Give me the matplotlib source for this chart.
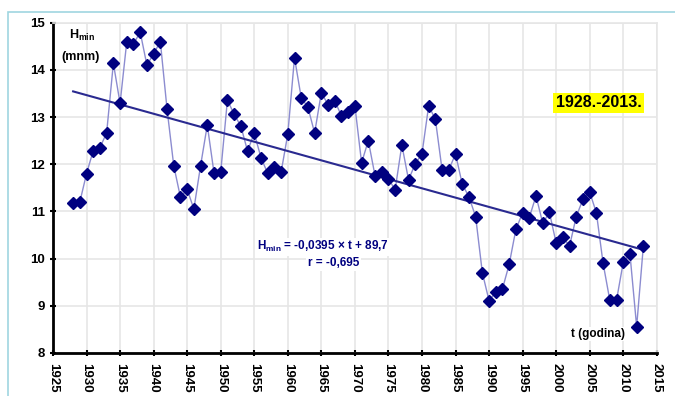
import matplotlib
matplotlib.use("Agg")
import matplotlib.pyplot as plt
import numpy as np
from matplotlib.patches import Rectangle

plt.rcParams["font.family"] = ["Liberation Sans", "DejaVu Sans"]
plt.rcParams["mathtext.fontset"] = "custom"
plt.rcParams["mathtext.rm"] = "Liberation Sans:bold"

# annual minimum levels, 1928-2013
years = list(range(1928, 2014))
h_min = [11.18, 11.20, 11.80, 12.29, 12.35, 12.67, 14.14, 13.29, 14.60, 14.55,
         14.80, 14.10, 14.34, 14.60, 13.17, 11.97, 11.30, 11.47, 11.05, 11.97,
         12.83, 11.82, 11.83, 13.36, 13.06, 12.81, 12.28, 12.66, 12.14, 11.81,
         11.95, 11.83, 12.64, 14.26, 13.41, 13.21, 12.66, 13.52, 13.26, 13.35,
         13.02, 13.11, 13.24, 12.03, 12.50, 11.76, 11.84, 11.69, 11.46, 12.41,
         11.67, 12.01, 12.22, 13.24, 12.95, 11.88, 11.88, 12.22, 11.58, 11.31,
         10.89, 9.70, 9.11, 9.29, 9.36, 9.88, 10.62, 10.97, 10.87, 11.33,
         10.75, 10.98, 10.33, 10.45, 10.27, 10.89, 11.26, 11.41, 10.97, 9.90,
         9.12, 9.12, 9.92, 10.10, 8.56, 10.27]
slope, intercept = -0.0395, 89.7

navy = "#000080"
fig = plt.figure(figsize=(6.75, 3.96), dpi=100)
ax = fig.add_axes([0.0785, 0.1086, 0.8945, 0.8341])

yrs = np.array(years)
ax.plot(yrs, h_min, color="#8c8cd0", lw=1.0, zorder=3)
ax.plot(yrs, h_min, ls="none", marker="D", ms=5.8, color=navy, zorder=4)
ax.plot([yrs[0], yrs[-1]], slope * np.array([yrs[0], yrs[-1]]) + intercept,
        color="#2a2a90", lw=1.5, zorder=3)

ax.set_xlim(1925, 2015)
ax.set_ylim(8, 15)
ax.set_xticks(range(1925, 2016, 5))
ax.set_yticks(range(8, 16))
ax.grid(True, color="#e6e6e6", lw=1.2, zorder=0)
ax.set_axisbelow(True)
for s in ("left", "bottom"):
    ax.spines[s].set_linewidth(2)
    ax.spines[s].set_color("black")
for s in ("top", "right"):
    ax.spines[s].set_color("#e6e6e6")
    ax.spines[s].set_linewidth(1.2)
ax.tick_params(direction="inout", length=5, width=1.5)
ax.tick_params(axis="x", pad=5)
for lab in ax.get_xticklabels():
    lab.set_rotation(-90)
    lab.set_fontsize(9.5)
    lab.set_fontweight("bold")
for lab in ax.get_yticklabels():
    lab.set_fontsize(9.5)
    lab.set_fontweight("bold")

ax.text(1927.4, 14.72, r"H$_{\mathrm{min}}$", fontsize=9, fontweight="bold", ha="left", va="center")
ax.text(1926.3, 14.28, "(mnm)", fontsize=9, fontweight="bold", ha="left", va="center")
ax.text(2006.3, 13.3, "1928.-2013.", fontsize=11.5, fontweight="bold", ha="center", va="center",
        bbox=dict(boxstyle="square,pad=0.15", fc="#ffff00", ec="none"))
ax.text(1965.3, 10.25, r"H$_{\mathrm{min}}$ = -0,0395 × t + 89,7", fontsize=8.5, fontweight="bold",
        color=navy, ha="center", va="center",
        bbox=dict(boxstyle="square,pad=0.15", fc="white", ec="none"))
ax.text(1966.8, 9.9, "r = -0,695", fontsize=8.5, fontweight="bold", color=navy,
        ha="center", va="center", bbox=dict(boxstyle="square,pad=0.15", fc="white", ec="none"))
ax.text(2006.2, 8.4, "t (godina)", fontsize=8.5, fontweight="bold", ha="center", va="center",
        bbox=dict(boxstyle="square,pad=0.1", fc="white", ec="none"))

# light outer frame of the chart area
fig.add_artist(Rectangle((8 / 675, -0.1), 1.2, 1 - 12 / 396 + 0.1, transform=fig.transFigure,
                         fill=False, ec="#9fd6e0", lw=1.2))

fig.savefig("out.png", dpi=100)
